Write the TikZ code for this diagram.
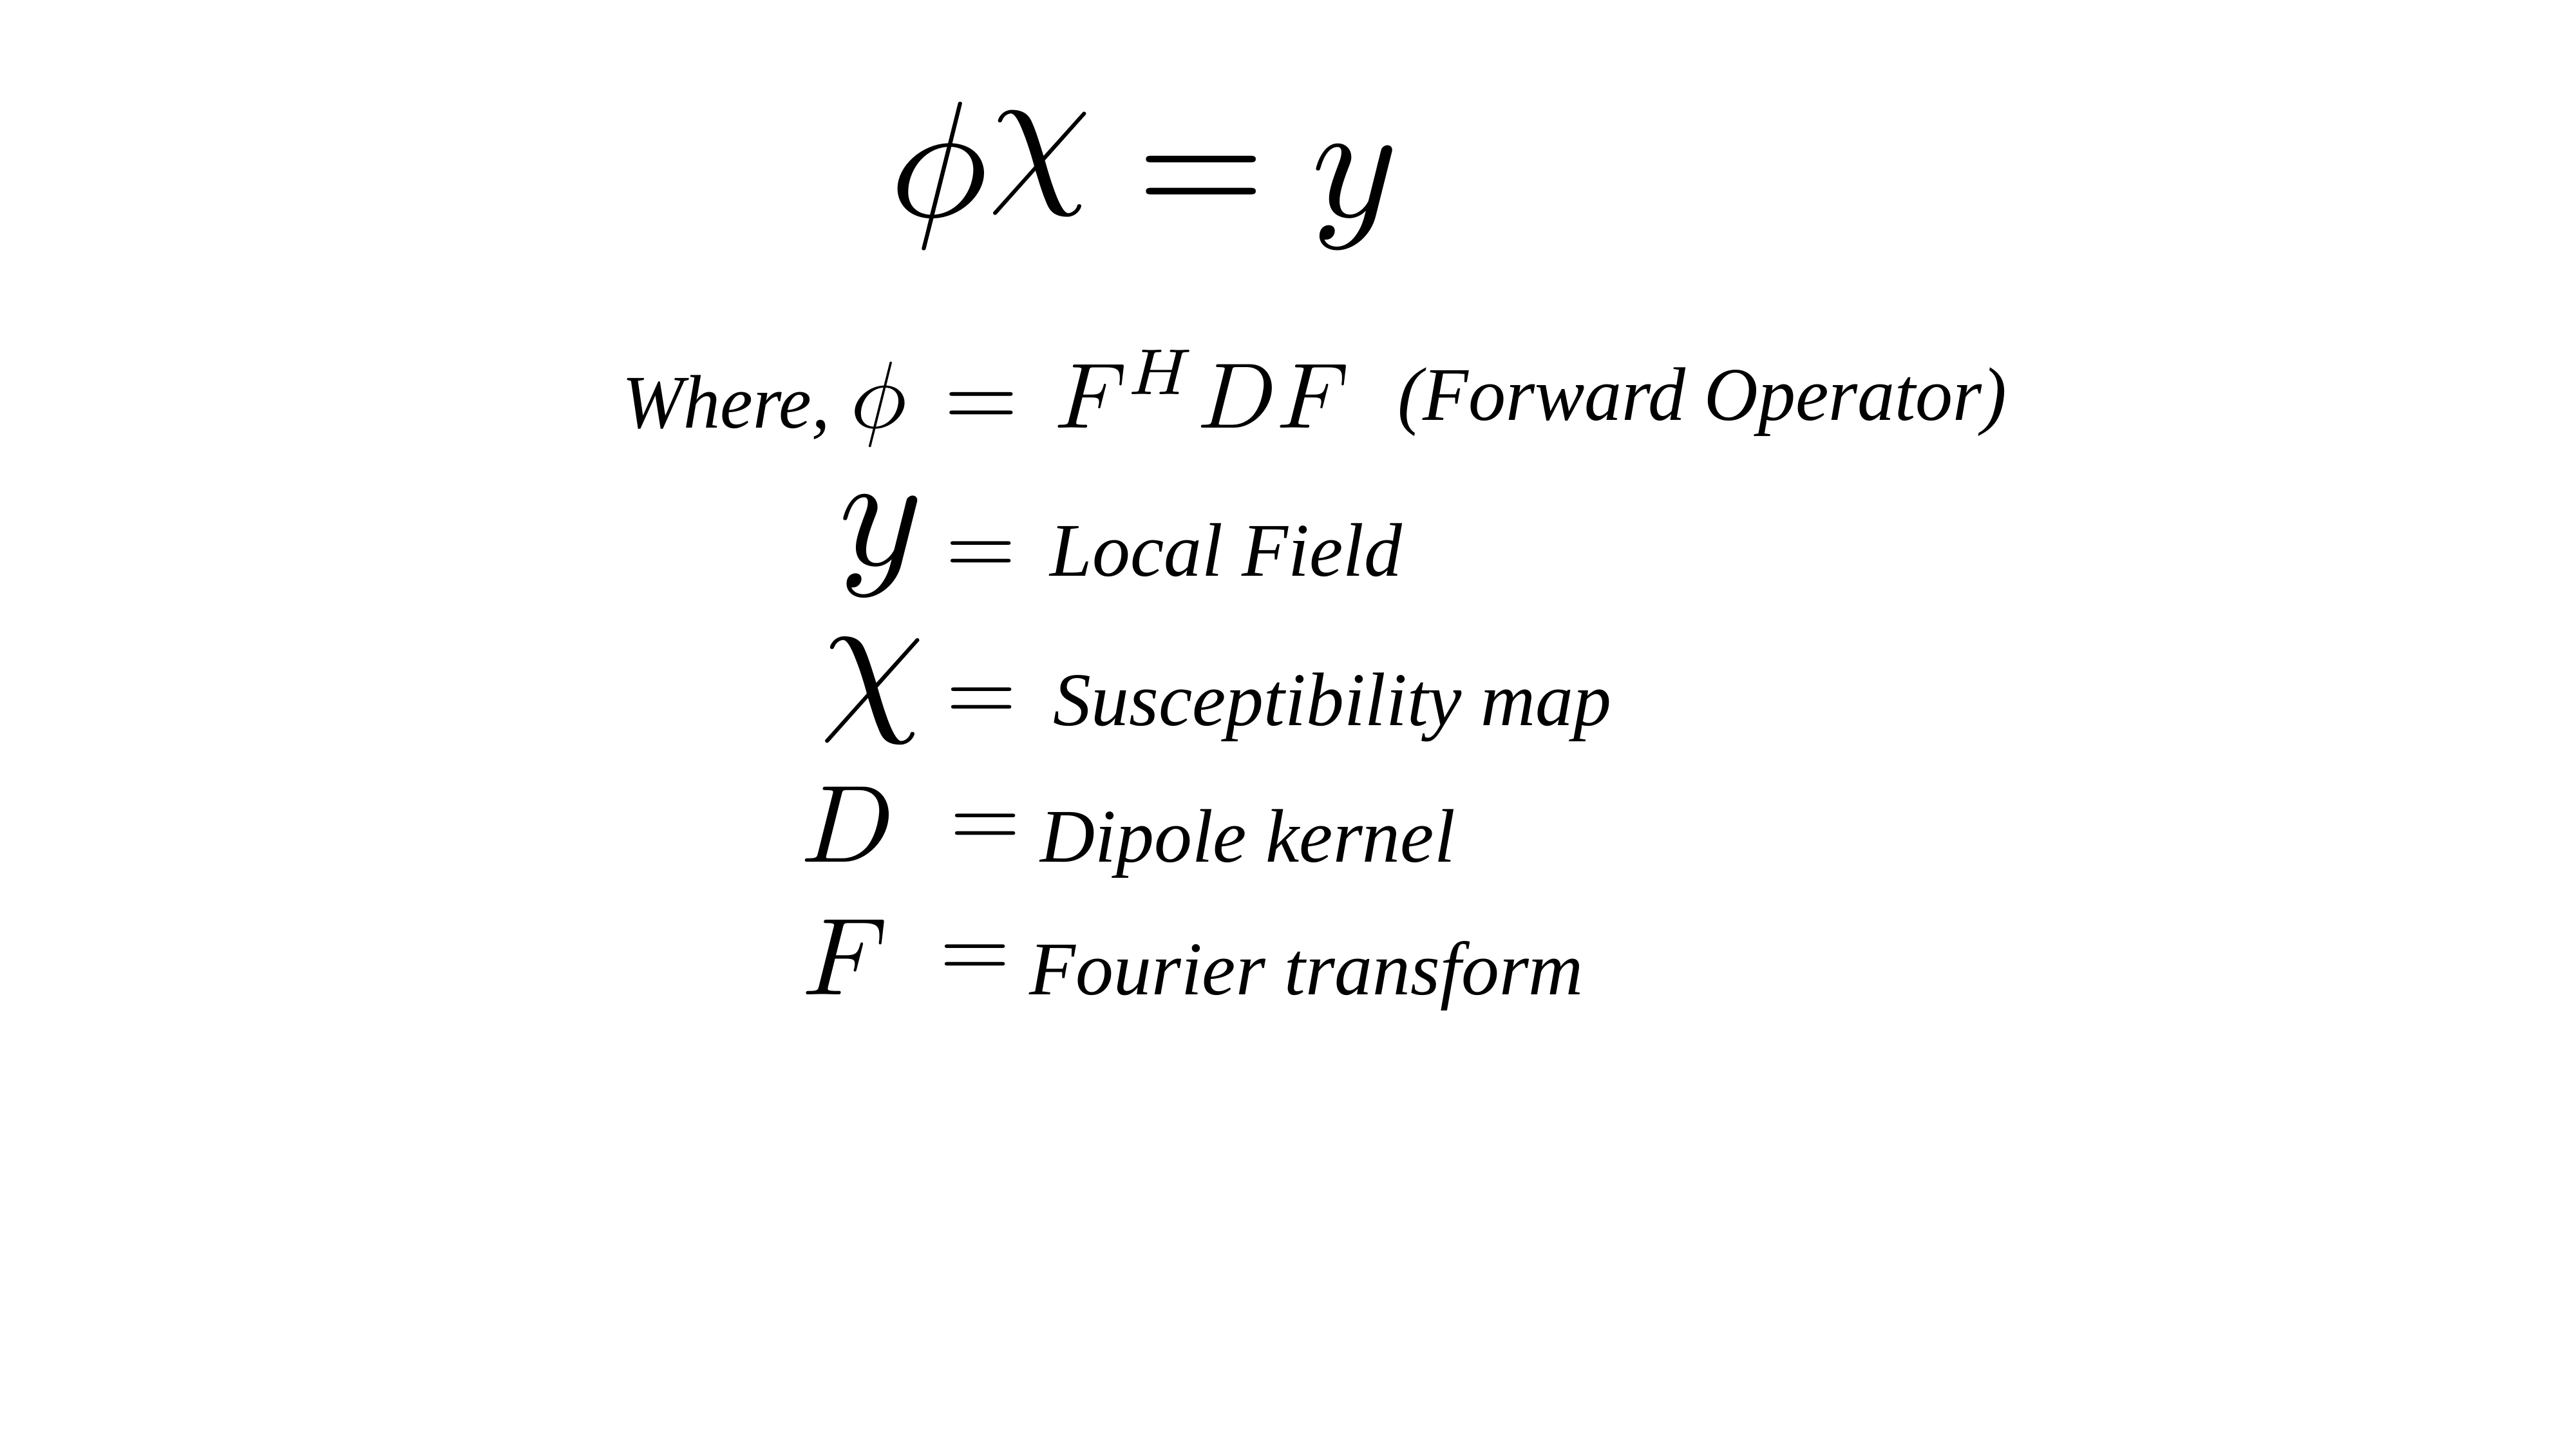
\documentclass[tikz,border=0pt]{standalone}
\usepackage{amsmath}
\usepackage{amssymb}
\usepackage{fontspec}
\setmainfont{Liberation Serif}
\usepackage{tikz}

\tikzset{
    txt/.style={anchor=base west, inner sep=0pt, font=\fontsize{33.5}{40}\selectfont\itshape},
    sym/.style={anchor=base, inner sep=0pt, font=\fontsize{10}{12}\selectfont},
    symw/.style={anchor=base west, inner sep=0pt, font=\fontsize{10}{12}\selectfont},
    eq/.style={anchor=base, inner sep=0pt, font=\fontsize{10}{12}\selectfont, scale=4}
}

\begin{document}
\begin{tikzpicture}
                \useasboundingbox (0,0) rectangle (40,22.5);
                \fill[white] (0,0) rectangle (40,22.5);

                \coordinate (T) at (13.76,19.13);
                \coordinate (W) at (9.66,15.85);
                \coordinate (P) at (13.64,15.85);
                \coordinate (E1) at (15.235,15.86);
                \coordinate (O) at (16.35,15.85);
                \coordinate (R) at (21.70,15.97);
                \coordinate (Y) at (13.68,13.72);
                \coordinate (E2) at (15.235,13.57);
                \coordinate (L) at (16.30,13.55);
                \coordinate (X) at (13.55,11.46);
                \coordinate (E3) at (15.24,11.30);
                \coordinate (S) at (16.35,11.23);
                \coordinate (D) at (12.40,9.11);
                \coordinate (E4) at (15.305,9.34);
                \coordinate (K) at (16.15,9.11);
                \coordinate (F) at (12.42,7.05);
                \coordinate (E5) at (15.14,7.31);
                \coordinate (U) at (15.98,7.05);

                \node[symw, scale=7.3] (top) at (T) {$\phi\raisebox{2.05pt}{$\chi$} = y$};

                \node[txt, xscale=0.97] (where) at (W) {Where,};
                \node[sym, scale=4.2] (phi) at (P) {$\phi$};
                \node[eq, scale=1.05] (eqa) at (E1) {$=$};
                \node[symw, scale=4.1] (op) at (O) {$F^H D F$};
                \node[txt, xscale=0.985] (fwd) at (R) {(Forward Operator)};

                \node[sym, scale=7.1] (y) at (Y) {$y$};
                \node[eq] (eqb) at (E2) {$=$};
                \node[txt] (field) at (L) {Local Field};

                \node[sym, scale=7.4] (chi) at (X) {$\chi$};
                \node[eq] (eqc) at (E3) {$=$};
                \node[txt] (map) at (S) {Susceptibility map};

                \node[symw, scale=4.85] (d) at (D) {$D$};
                \node[eq] (eqd) at (E4) {$=$};
                \node[txt] (kernel) at (K) {Dipole kernel};

                \node[symw, scale=4.85] (f) at (F) {$F$};
                \node[eq] (eqe) at (E5) {$=$};
                \node[txt] (fourier) at (U) {Fourier transform};
            \end{tikzpicture}
\end{document}
